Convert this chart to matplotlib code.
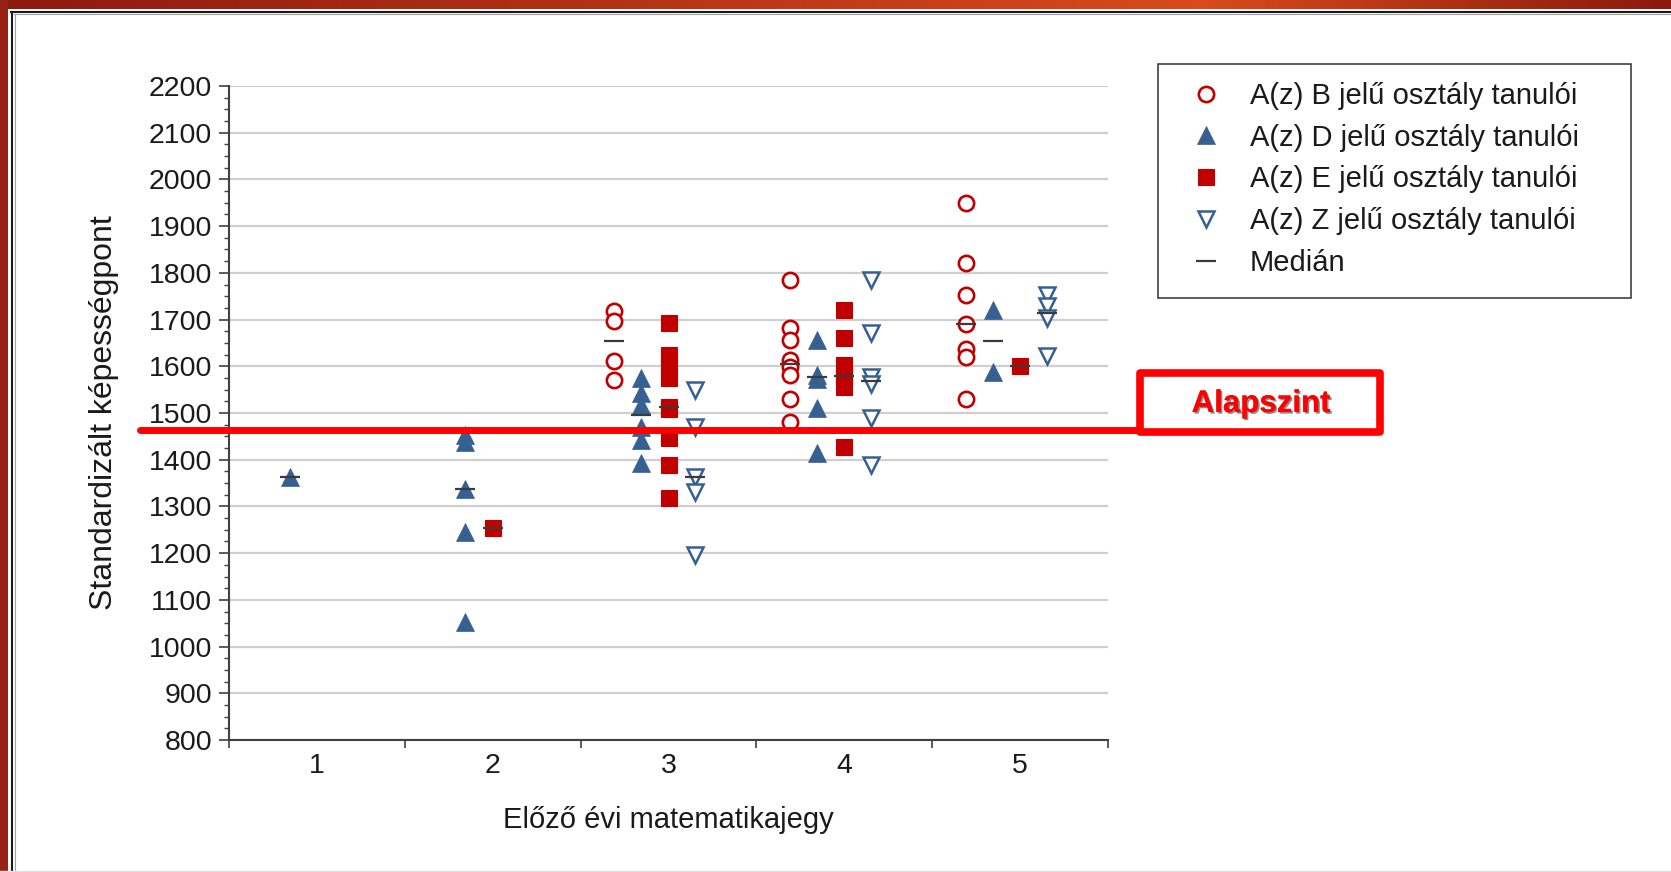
import numpy as np
import matplotlib.pyplot as plt
import matplotlib.transforms as mtransforms
import matplotlib.patheffects as pe
from matplotlib.patches import Rectangle
from matplotlib.lines import Line2D
from matplotlib.ticker import MultipleLocator, FixedLocator

plt.rcParams["font.family"] = ["Liberation Sans", "DejaVu Sans"]

# values, one list per grade (1..5)
grades = [1, 2, 3, 4, 5]
grade_labels = ["1", "2", "3", "4", "5"]

b_scores = [[], [],
            [1718, 1697, 1611, 1571],
            [1785, 1681, 1656, 1613, 1599, 1581, 1531, 1481],
            [1950, 1822, 1753, 1690, 1638, 1620, 1531]]
d_scores = [[1362],
            [1452, 1437, 1337, 1246, 1053],
            [1575, 1543, 1517, 1471, 1442, 1392],
            [1656, 1582, 1572, 1510, 1414],
            [1720, 1588]]
e_scores = [[],
            [1253],
            [1692, 1625, 1600, 1575, 1513, 1508, 1446, 1389, 1317],
            [1720, 1660, 1603, 1580, 1577, 1555, 1428],
            [1600]]
z_scores = [[], [],
            [1549, 1471, 1364, 1331, 1196],
            [1785, 1671, 1578, 1562, 1489, 1389],
            [1753, 1728, 1703, 1621]]

nan = np.nan
b_medians = [nan, nan, 1654, 1605, 1690]
d_medians = [1362, 1337, 1496, 1576, 1655]
e_medians = [nan, 1253, 1512, 1579, 1600]
z_medians = [nan, nan, 1362, 1569, 1715]

alapszint = 1463

labels = ["A(z) B jelű osztály tanulói", "A(z) D jelű osztály tanulói",
          "A(z) E jelű osztály tanulói", "A(z) Z jelű osztály tanulói", "Medián"]

RED = "#C00000"
BLUE = "#376092"
MED = "#3a3a3a"

W, H = 1671, 872
fig = plt.figure(figsize=(W / 100, H / 100), dpi=100)


def fx(px):
    return px / W


def fy(py):
    return 1 - py / H


ax = fig.add_axes([fx(229), fy(740), fx(1108) - fx(229), fy(86) - fy(740)])
ax.set_xlim(0.5, 5.5)
ax.set_ylim(800, 2200)

series = [
    (b_scores, b_medians, -0.308, dict(marker="o", ms=11, mew=1.9, mfc="white", mec=RED)),
    (d_scores, d_medians, -0.155, dict(marker="^", ms=13, mew=0.5, mfc=BLUE, mec=BLUE)),
    (e_scores, e_medians, 0.0, dict(marker="s", ms=12.2, mew=0.8, mfc=RED, mec=RED)),
    (z_scores, z_medians, 0.152, dict(marker="v", ms=11.5, mew=1.8, mfc="white", mec=BLUE)),
]

for scores, medians, off, style in series:
    xs = []
    ys = []
    for g, vals in zip(grades, scores):
        xs += [g + off] * len(vals)
        ys += vals
    ax.plot(xs, ys, ls="none", zorder=3, **style)
    ax.plot(np.array(grades) + off, medians, ls="none", marker="_", ms=14,
            mew=1.6, color=MED, zorder=4)

# axes styling
ax.set_yticks(range(800, 2201, 100))
ax.yaxis.set_minor_locator(MultipleLocator(25))
ax.yaxis.grid(True, color="#cfcfcf", lw=1.6)
ax.set_axisbelow(True)
ax.set_xticks(grades)
ax.set_xticklabels(grade_labels)
ax.xaxis.set_minor_locator(FixedLocator(np.arange(0.5, 5.6, 1.0)))
for s in ["top", "right"]:
    ax.spines[s].set_visible(False)
for s in ["left", "bottom"]:
    ax.spines[s].set_color("#404040")
    ax.spines[s].set_linewidth(1.5)
ax.tick_params(axis="y", which="major", length=7, width=1.2, color="#404040",
               labelsize=20.5, pad=5, labelcolor="#1a1a1a")
ax.tick_params(axis="y", which="minor", length=3.5, width=1.0, color="#404040")
ax.tick_params(axis="x", which="major", length=0, labelsize=20.5, pad=9,
               labelcolor="#1a1a1a")
ax.tick_params(axis="x", which="minor", length=6, width=1.2, color="#404040")

ax.set_xlabel("Előző évi matematikajegy", fontsize=21, color="#1a1a1a", va="center")
ax.xaxis.set_label_coords(0.5, -(820 - 740) / 654)
ax.set_ylabel("Standardizált képességpont", fontsize=23, color="#1a1a1a",
              va="center", ha="center")
ax.yaxis.set_label_coords(-(229 - 104) / 879, 0.5)

# legend
handles = [Line2D([], [], ls="none", **st) for _, _, _, st in series]
handles.append(Line2D([], [], ls="none", marker="_", ms=14, mew=1.6, color=MED))
fig.legend(handles, labels, loc="upper left", bbox_to_anchor=(fx(1177), fy(82)),
           frameon=False, fontsize=21, borderpad=0, borderaxespad=0,
           handlelength=2.0, handletextpad=0.5, labelspacing=0.47,
           labelcolor="#1a1a1a")
fig.add_artist(Rectangle((fx(1158), fy(298)), fx(1631) - fx(1158), fy(64) - fy(298),
                         transform=fig.transFigure, fill=False, ec="#404040", lw=1.2))

# Alapszint line and box
blend = mtransforms.blended_transform_factory(fig.transFigure, ax.transData)
fig.add_artist(Line2D([fx(140), fx(1140)], [alapszint, alapszint], transform=blend,
                      color="#FF0000", lw=5, solid_capstyle="round", zorder=10))
fig.add_artist(Rectangle((fx(1140), fy(432)), fx(1380) - fx(1140), fy(373) - fy(432),
                         transform=fig.transFigure, fill=False, ec="#FF0000", lw=5.5,
                         joinstyle="round", zorder=10))
fig.text(fx(1261), fy(404), "Alapszint", color="#FF0000", fontsize=22.5,
         fontweight="bold", ha="center", va="center", zorder=11,
         path_effects=[pe.withSimplePatchShadow(offset=(1.2, -1.2),
                                                shadow_rgbFace="black", alpha=0.45),
                       pe.Normal()])

# slide frame
band = fig.add_axes([0, fy(9), 1, 9 / H])
band.axis("off")
stops = np.array([[0.0, 0.55, 0.10, 0.06],
                  [0.72, 0.85, 0.29, 0.11],
                  [1.0, 0.54, 0.10, 0.05]])
t = np.linspace(0, 1, 400)
grad = np.stack([np.interp(t, stops[:, 0], stops[:, i]) for i in (1, 2, 3)], axis=-1)
band.imshow(grad[None, :, :], aspect="auto", extent=[0, 1, 0, 1])
band.set_xlim(0, 1)
fig.add_artist(Rectangle((0, 0), fx(8), 1, transform=fig.transFigure,
                         color="#952212", lw=0))
fig.add_artist(Line2D([fx(11), 1], [fy(12), fy(12)], transform=fig.transFigure,
                      color="#1a1a1a", lw=1.5))
fig.add_artist(Line2D([fx(12), fx(12)], [fy(12), 0], transform=fig.transFigure,
                      color="#1a1a1a", lw=1.5))
fig.add_artist(Line2D([fx(14), 1], [fy(14.5), fy(14.5)], transform=fig.transFigure,
                      color="#a0a0a0", lw=0.8))
fig.add_artist(Line2D([fx(14.5), fx(14.5)], [fy(14), 0], transform=fig.transFigure,
                      color="#a0a0a0", lw=0.8))
fig.add_artist(Line2D([0, 1], [fy(871), fy(871)], transform=fig.transFigure,
                      color="#e0e0e0", lw=1))

plt.savefig("out.png", dpi=100)
